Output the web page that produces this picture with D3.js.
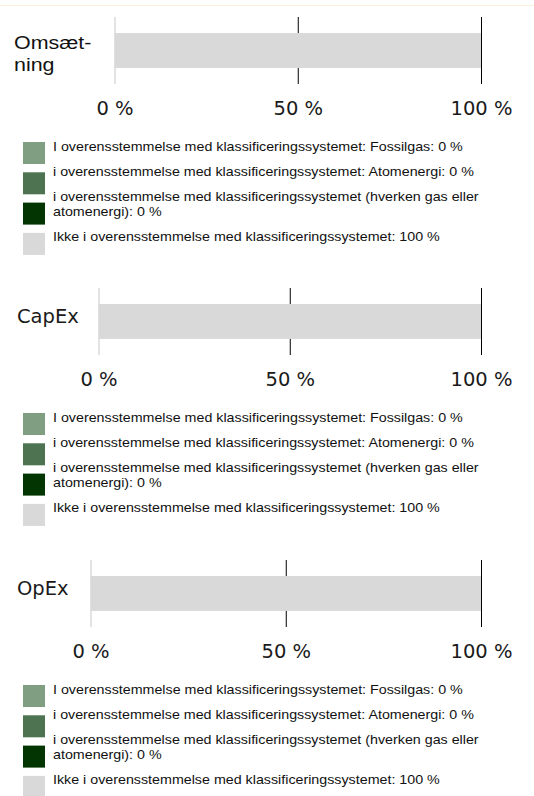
<!DOCTYPE html>
<html>
<head>
<meta charset="utf-8">
<style>
  body { margin: 0; background: #fff; }
  svg { display: block; }
</style>
</head>
<body>
<div id="chart"></div>
<script src="https://d3js.org/d3.v7.min.js"></script>
<script>
// categories (soft hyphen marks where the first label is split)
var categories = ["Omsæt\u00ADning", "CapEx", "OpEx"];
var seriesNames = [
  "I overensstemmelse med klassificeringssystemet: Fossilgas",
  "i overensstemmelse med klassificeringssystemet: Atomenergi",
  "i overensstemmelse med klassificeringssystemet (hverken gas eller atomenergi)",
  "Ikke i overensstemmelse med klassificeringssystemet"
];
var seriesKeys = ["fossil", "atom", "other", "notAligned"];
var fossilValues = [0, 0, 0];
var atomValues = [0, 0, 0];
var otherValues = [0, 0, 0];
var notAlignedValues = [100, 100, 100];
var tickValues = [0, 50, 100];
var seriesColors = ["#809e81", "#4e7350", "#023502", "#d9d9d9"];

var width = 534, height = 796;
var chartTops = [17, 288, 560];       // top of tick lines for each panel
var axisLefts = [114.5, 98.5, 90.5];  // x of 0 % for each panel
var axisRight = 481;
var stretch = 1.19;                   // the sans text in the original is set wide

var svg = d3.select("#chart").append("svg")
  .attr("width", width)
  .attr("height", height);

// faint line across the top
svg.append("line")
  .attr("x1", 0).attr("x2", width)
  .attr("y1", 5.5).attr("y2", 5.5)
  .attr("stroke", "#fbf1de");

var rows = categories.map(function(c, i) {
  return { category: c, fossil: fossilValues[i], atom: atomValues[i], other: otherValues[i], notAligned: notAlignedValues[i] };
});

var stack = d3.stack().keys(seriesKeys);

categories.forEach(function(cat, i) {
  var top = chartTops[i];
  var g = svg.append("g");

  var x = d3.scaleLinear().domain([0, 100]).range([axisLefts[i], axisRight]);
  var y = d3.scaleBand().domain([cat]).range([top, top + 67]).paddingInner(0).paddingOuter(0.46);

  // axis with long ticks
  var axis = d3.axisBottom(x)
    .tickValues(tickValues)
    .tickSize(-67)
    .tickPadding(17)
    .tickFormat(function(d) { return d + " %"; });

  var ax = g.append("g")
    .attr("transform", "translate(0," + (top + 67) + ")")
    .call(axis);
  ax.select(".domain").remove();
  ax.selectAll(".tick line")
    .attr("stroke", function(d) { return d === 0 ? "#c8c8c8" : "#000"; });
  ax.selectAll(".tick text")
    .attr("fill", "#1a1a1a")
    .style("font-family", "'DejaVu Sans', sans-serif")
    .style("font-size", "19.5px");

  // stacked bar
  var series = stack([rows[i]]);
  g.selectAll("rect.seg")
    .data(series)
    .enter().append("rect")
    .attr("class", "seg")
    .attr("x", function(s) { return x(s[0][0]); })
    .attr("width", function(s) { return x(s[0][1]) - x(s[0][0]); })
    .attr("y", y(cat))
    .attr("height", y.bandwidth())
    .attr("fill", function(s, k) { return seriesColors[k]; });

  // category label
  var mid = y(cat) + y.bandwidth() / 2;
  if (cat.indexOf("\u00AD") >= 0) {
    var parts = cat.split("\u00AD");
    var t = g.append("text")
      .attr("transform", "translate(14," + (mid - 1.5) + ") scale(" + stretch + ",1)")
      .attr("fill", "#111")
      .style("font-family", "'Liberation Sans', Arial, sans-serif")
      .style("font-size", "18px");
    t.append("tspan").attr("x", 0).text(parts[0] + "-");
    t.append("tspan").attr("x", 0).attr("dy", 22).text(parts[1]);
  } else {
    g.append("text")
      .attr("x", 17)
      .attr("y", mid + 1.5)
      .attr("fill", "#1a1a1a")
      .style("font-family", "'DejaVu Sans', sans-serif")
      .style("font-size", "19.5px")
      .text(cat);
  }

  // legend
  var legTop = top + 125;
  var values = [fossilValues[i], atomValues[i], otherValues[i], notAlignedValues[i]];
  var leg = g.append("g");
  var baseline = legTop + 9;
  seriesNames.forEach(function(name, k) {
    leg.append("rect")
      .attr("x", 23)
      .attr("y", legTop + k * 30.3)
      .attr("width", 22)
      .attr("height", 22)
      .attr("fill", seriesColors[k]);

    var txt = leg.append("text")
      .attr("transform", "translate(53," + baseline + ") scale(" + stretch + ",1)")
      .attr("fill", "#111")
      .style("font-family", "'Liberation Sans', Arial, sans-serif")
      .style("font-size", "12px");

    // simple word wrap
    var words = (name + ": " + values[k] + " %").split(" ");
    var line = [];
    var tspan = txt.append("tspan").attr("x", 0);
    var lines = 1;
    words.forEach(function(w) {
      line.push(w);
      tspan.text(line.join(" "));
      if (tspan.node().getComputedTextLength() * stretch > 440 && line.length > 1) {
        line.pop();
        tspan.text(line.join(" "));
        line = [w];
        tspan = txt.append("tspan").attr("x", 0).attr("dy", 15.3).text(w);
        lines++;
      }
    });
    baseline += lines * 15.3 + 9.7;
  });
});
</script>
</body>
</html>
